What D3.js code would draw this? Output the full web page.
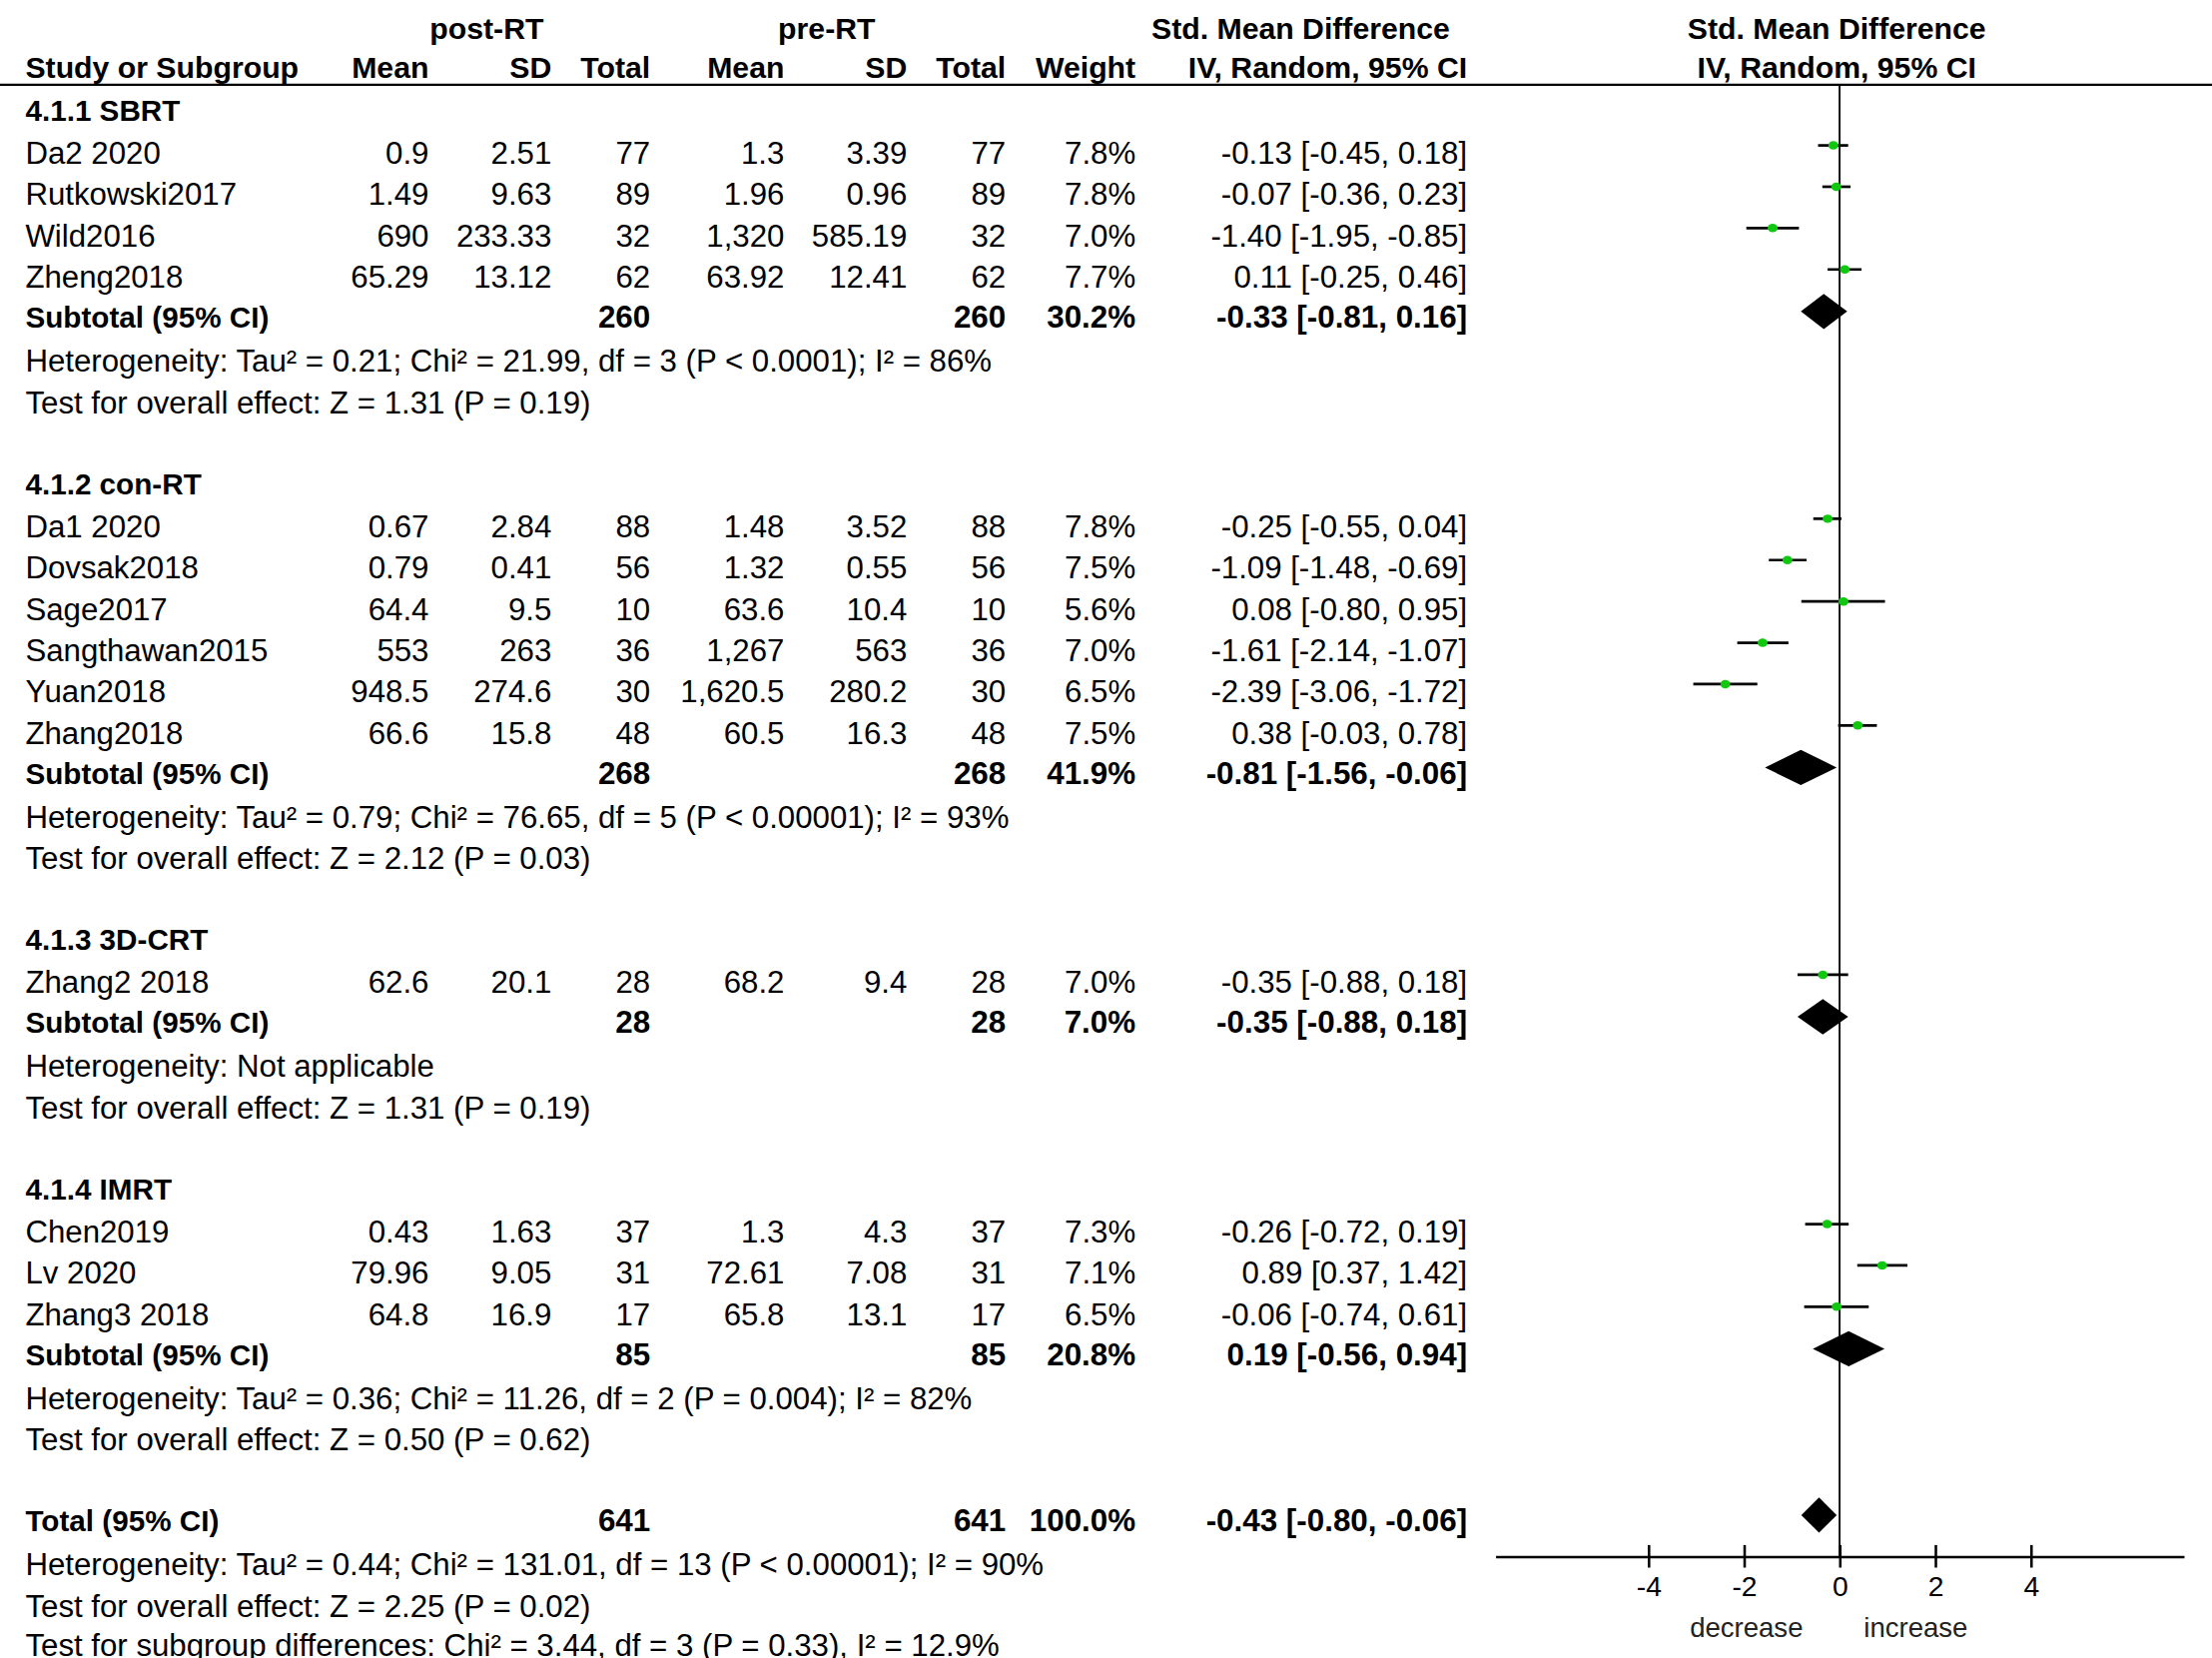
<!DOCTYPE html>
<html>
<head>
<meta charset="utf-8">
<script src="https://cdnjs.cloudflare.com/ajax/libs/d3/7.8.5/d3.min.js"></script>
<style>
  html, body { margin: 0; padding: 0; background: #fff; }
  svg { display: block; font-family: 'Liberation Sans', Arial, sans-serif; }
</style>
</head>
<body>
<div id="chart-area"></div>
<script>
const groupNames = ['4.1.1 SBRT', '4.1.2 con-RT', '4.1.3 3D-CRT', '4.1.4 IMRT'];
const studyNames = ['Da2 2020', 'Rutkowski2017', 'Wild2016', 'Zheng2018',
  'Da1 2020', 'Dovsak2018', 'Sage2017', 'Sangthawan2015', 'Yuan2018', 'Zhang2018',
  'Zhang2 2018',
  'Chen2019', 'Lv 2020', 'Zhang3 2018'];
const studyGroup = [0, 0, 0, 0, 1, 1, 1, 1, 1, 1, 2, 3, 3, 3];
const postMean = [0.9, 1.49, 690, 65.29, 0.67, 0.79, 64.4, 553, 948.5, 66.6, 62.6, 0.43, 79.96, 64.8];
const postSD = [2.51, 9.63, 233.33, 13.12, 2.84, 0.41, 9.5, 263, 274.6, 15.8, 20.1, 1.63, 9.05, 16.9];
const postN = [77, 89, 32, 62, 88, 56, 10, 36, 30, 48, 28, 37, 31, 17];
const preMean = [1.3, 1.96, 1320, 63.92, 1.48, 1.32, 63.6, 1267, 1620.5, 60.5, 68.2, 1.3, 72.61, 65.8];
const preSD = [3.39, 0.96, 585.19, 12.41, 3.52, 0.55, 10.4, 563, 280.2, 16.3, 9.4, 4.3, 7.08, 13.1];
const preN = [77, 89, 32, 62, 88, 56, 10, 36, 30, 48, 28, 37, 31, 17];
const weights = [7.8, 7.8, 7.0, 7.7, 7.8, 7.5, 5.6, 7.0, 6.5, 7.5, 7.0, 7.3, 7.1, 6.5];
const smd = [-0.13, -0.07, -1.40, 0.11, -0.25, -1.09, 0.08, -1.61, -2.39, 0.38, -0.35, -0.26, 0.89, -0.06];
const ciLow = [-0.45, -0.36, -1.95, -0.25, -0.55, -1.48, -0.80, -2.14, -3.06, -0.03, -0.88, -0.72, 0.37, -0.74];
const ciHigh = [0.18, 0.23, -0.85, 0.46, 0.04, -0.69, 0.95, -1.07, -1.72, 0.78, 0.18, 0.19, 1.42, 0.61];

const subN = [260, 268, 28, 85];
const subWeight = [30.2, 41.9, 7.0, 20.8];
const subSmd = [-0.33, -0.81, -0.35, 0.19];
const subLow = [-0.81, -1.56, -0.88, -0.56];
const subHigh = [0.16, -0.06, 0.18, 0.94];
const subHet = [
  'Heterogeneity: Tau² = 0.21; Chi² = 21.99, df = 3 (P < 0.0001); I² = 86%',
  'Heterogeneity: Tau² = 0.79; Chi² = 76.65, df = 5 (P < 0.00001); I² = 93%',
  'Heterogeneity: Not applicable',
  'Heterogeneity: Tau² = 0.36; Chi² = 11.26, df = 2 (P = 0.004); I² = 82%'];
const subTest = [
  'Test for overall effect: Z = 1.31 (P = 0.19)',
  'Test for overall effect: Z = 2.12 (P = 0.03)',
  'Test for overall effect: Z = 1.31 (P = 0.19)',
  'Test for overall effect: Z = 0.50 (P = 0.62)'];

const totalN = 641;
const totalWeight = 100.0;
const totalSmd = -0.43, totalLow = -0.80, totalHigh = -0.06;
const totalNotes = [
  'Heterogeneity: Tau² = 0.44; Chi² = 131.01, df = 13 (P < 0.00001); I² = 90%',
  'Test for overall effect: Z = 2.25 (P = 0.02)',
  'Test for subgroup differences: Chi² = 3.44, df = 3 (P = 0.33), I² = 12.9%'];

const axisTicks = [-4, -2, 0, 2, 4];
const axisLabels = ['decrease', 'increase'];

// layout, in the 1568 x 1175 frame of the picture
const W = 1568, H = 1175;
const col = { name: 18, pm: 304, psd: 391, pn: 461, qm: 556, qsd: 643, qn: 713, w: 805, ci: 1040 };
const fs = 22.1, fsBold = 21, fsBoldNum = 22.2, fsHead = 21.4;
const green = '#10c810';

const num = v => v.toLocaleString('en-US', { maximumFractionDigits: 2 });
const f2 = v => v.toFixed(2);
const ciText = (m, lo, hi) => `${f2(m)} [${f2(lo)}, ${f2(hi)}]`;
const pct = v => v.toFixed(1) + '%';

const svg = d3.select('#chart-area').append('svg')
  .attr('width', 2215)
  .attr('height', 1660)
  .attr('viewBox', `0 0 ${W} ${H}`);

const x = d3.scaleLinear().domain([-7.2, 7.2]).range([1060, 1548]);
const axisY = 1103;

const text = (str, xx, y, opts = {}) => svg.append('text')
  .attr('x', xx)
  .attr('y', y + 7.5)
  .attr('font-size', opts.size || (opts.bold ? fsBold : fs))
  .attr('font-weight', opts.bold ? 'bold' : null)
  .attr('text-anchor', opts.anchor || 'start')
  .attr('fill', opts.fill || '#000')
  .text(str);

// headers
const hc = { bold: true, anchor: 'middle', size: fsHead };
const hdr = { bold: true, anchor: 'end', size: fsHead };
text('post-RT', 345, 20, hc);
text('pre-RT', 586, 20, hc);
text('Std. Mean Difference', 922, 20, hc);
text('Std. Mean Difference', 1302, 20, hc);
text('Study or Subgroup', col.name, 48, { bold: true, size: fsHead });
text('Mean', col.pm, 48, hdr);
text('SD', col.psd, 48, hdr);
text('Total', col.pn, 48, hdr);
text('Mean', col.qm, 48, hdr);
text('SD', col.qsd, 48, hdr);
text('Total', col.qn, 48, hdr);
text('Weight', col.w, 48, hdr);
text('IV, Random, 95% CI', col.ci, 48, hdr);
text('IV, Random, 95% CI', 1302, 48, hc);

svg.append('line')
  .attr('x1', 0).attr('x2', W)
  .attr('y1', 60).attr('y2', 60)
  .attr('stroke', '#000').attr('stroke-width', 1.5);

// build rows
const rows = [];
let y = 78;
groupNames.forEach((g, gi) => {
  rows.push({ type: 'group', y, gi });
  y += 30.5;
  studyNames.forEach((s, i) => {
    if (studyGroup[i] !== gi) return;
    rows.push({ type: 'study', y, i });
    y += 29.3;
  });
  y -= 1;
  rows.push({ type: 'sub', y, gi });
  y += 31.3;
  rows.push({ type: 'note', y, str: subHet[gi] });
  y += 29.3;
  rows.push({ type: 'note', y, str: subTest[gi] });
  y += 57.3;
});
rows.push({ type: 'total', y });
y += 31.3;
rows.push({ type: 'note', y, str: totalNotes[0] });
y += 29.3;
rows.push({ type: 'note', y, str: totalNotes[1] });
y += 27.8;
rows.push({ type: 'note', y, str: totalNotes[2] });

// zero line
svg.append('line')
  .attr('x1', x(0)).attr('x2', x(0))
  .attr('y1', 60).attr('y2', axisY)
  .attr('stroke', '#000').attr('stroke-width', 1.3);

const diamond = (m, lo, hi, cy) => {
  const h = 12.5;
  svg.append('path')
    .attr('d', `M${x(lo)},${cy} L${x(m)},${cy - h} L${x(hi)},${cy} L${x(m)},${cy + h} Z`)
    .attr('fill', '#000');
};

const pooledRow = (label, n, w, m, lo, hi, y) => {
  const b = { bold: true, anchor: 'end', size: fsBoldNum };
  text(label, col.name, y, { bold: true });
  text(n, col.pn, y, b);
  text(n, col.qn, y, b);
  text(pct(w), col.w, y, b);
  text(ciText(m, lo, hi), col.ci, y, b);
  diamond(m, lo, hi, y - 4);
};

rows.forEach(r => {
  if (r.type === 'group') {
    text(groupNames[r.gi], col.name, r.y, { bold: true });
  } else if (r.type === 'study') {
    const i = r.i;
    text(studyNames[i], col.name, r.y);
    text(num(postMean[i]), col.pm, r.y, { anchor: 'end' });
    text(num(postSD[i]), col.psd, r.y, { anchor: 'end' });
    text(postN[i], col.pn, r.y, { anchor: 'end' });
    text(num(preMean[i]), col.qm, r.y, { anchor: 'end' });
    text(num(preSD[i]), col.qsd, r.y, { anchor: 'end' });
    text(preN[i], col.qn, r.y, { anchor: 'end' });
    text(pct(weights[i]), col.w, r.y, { anchor: 'end' });
    text(ciText(smd[i], ciLow[i], ciHigh[i]), col.ci, r.y, { anchor: 'end' });
    const cy = r.y - 5.5;
    svg.append('line')
      .attr('x1', x(ciLow[i])).attr('x2', x(ciHigh[i]))
      .attr('y1', cy).attr('y2', cy)
      .attr('stroke', '#000').attr('stroke-width', 1.9);
    svg.append('ellipse')
      .attr('cx', x(smd[i])).attr('cy', cy)
      .attr('rx', 3.5).attr('ry', 3)
      .attr('fill', green);
  } else if (r.type === 'sub') {
    const gi = r.gi;
    pooledRow('Subtotal (95% CI)', subN[gi], subWeight[gi], subSmd[gi], subLow[gi], subHigh[gi], r.y);
  } else if (r.type === 'total') {
    pooledRow('Total (95% CI)', totalN, totalWeight, totalSmd, totalLow, totalHigh, r.y);
  } else {
    text(r.str, col.name, r.y);
  }
});

// axis
const axisG = svg.append('g')
  .attr('transform', `translate(0,${axisY})`)
  .call(d3.axisBottom(x).tickValues(axisTicks).tickSizeOuter(0).tickFormat(d => String(d)));
axisG.attr('font-size', null).attr('font-family', null);
axisG.select('.domain').attr('stroke-width', 1.8);
axisG.selectAll('.tick line').attr('y1', -8).attr('y2', 8).attr('stroke-width', 1.8);
axisG.selectAll('.tick text')
  .attr('y', 28).attr('dy', null)
  .attr('font-size', 20)
  .attr('fill', '#000');

svg.append('text')
  .attr('x', 1238).attr('y', 1160)
  .attr('text-anchor', 'middle')
  .attr('font-size', 19.5)
  .attr('fill', '#222')
  .text(axisLabels[0]);
svg.append('text')
  .attr('x', 1358).attr('y', 1160)
  .attr('text-anchor', 'middle')
  .attr('font-size', 19.5)
  .attr('fill', '#222')
  .text(axisLabels[1]);
</script>
</body>
</html>
